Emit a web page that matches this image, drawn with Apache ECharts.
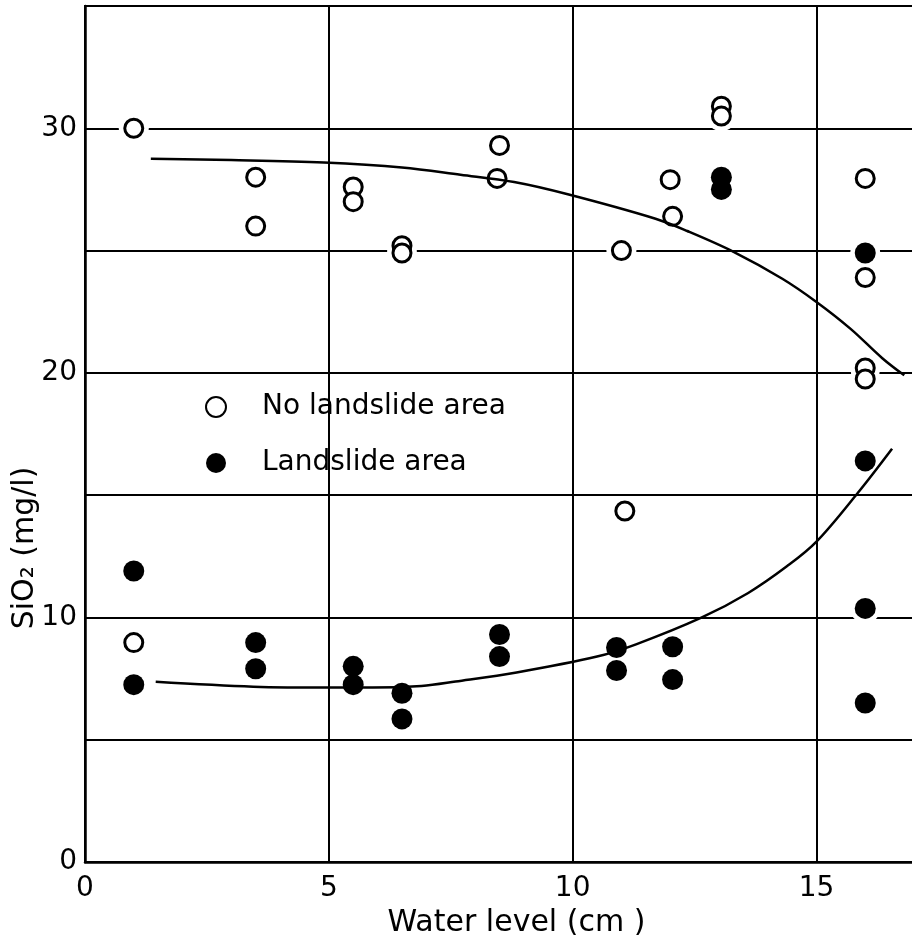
<!DOCTYPE html>
<html>
<head>
<meta charset="utf-8">
<title>SiO2 vs water level</title>
<script src="https://cdn.jsdelivr.net/npm/echarts@6/dist/echarts.min.js"></script>
<style>
  html, body { margin: 0; padding: 0; background: #fff; }
  #chart { width: 912px; height: 937px; }
</style>
</head>
<body>
<div id="chart"></div>
<script>
// points: [water level (cm), SiO2 (mg/l)]
var noLandslide = [
    [1, 30.0], [1, 8.97],
    [3.5, 28.0], [3.5, 26.0],
    [5.5, 27.6], [5.5, 27.0],
    [6.5, 25.2], [6.5, 24.9],
    [8.5, 29.3], [8.45, 27.95],
    [11.0, 25.0], [11.07, 14.35],
    [12.0, 27.9], [12.05, 26.4],
    [13.05, 30.9], [13.05, 30.5],
    [16.0, 27.95], [16.0, 23.9], [16.0, 20.2], [16.0, 19.75]
];
var landslide = [
    [1, 11.9], [1, 7.25],
    [3.5, 8.97], [3.5, 7.9],
    [5.5, 8.0], [5.5, 7.25],
    [6.5, 6.9], [6.5, 5.85],
    [8.5, 9.3], [8.5, 8.4],
    [10.9, 8.77], [10.9, 7.83],
    [12.05, 8.8], [12.05, 7.46],
    [13.05, 28.0], [13.05, 27.5],
    [16.0, 24.9], [16.0, 16.4], [16.0, 10.37], [16.0, 6.5]
];
// hand drawn trend curves
var upperCurve = [
    [1.35, 28.75], [3, 28.7], [4.9, 28.6], [6.5, 28.4], [7.7, 28.1],
    [8.8, 27.8], [9.9, 27.3], [11.7, 26.3], [12.35, 25.8], [13.3, 24.95],
    [14.3, 23.85], [15, 22.9], [15.7, 21.8], [16.35, 20.6], [16.8, 19.9]
];
var lowerCurve = [
    [1.45, 7.37], [3.45, 7.17], [5.05, 7.13], [5.9, 7.13], [6.9, 7.2],
    [7.6, 7.38], [8.85, 7.75], [10.5, 8.4], [11.3, 8.9], [12.65, 10.0],
    [13.6, 11.0], [14.4, 12.1], [15, 13.1], [15.85, 15.1], [16.55, 16.9]
];
var xLabels = [0, 5, 10, 15];
var yLabels = [0, 10, 20, 30];

var chart = echarts.init(document.getElementById('chart'));
var font = 'DejaVu Sans';

var option = {
    animation: false,
    backgroundColor: '#fff',
    grid: {
        left: 85,
        right: -2,
        top: 6,
        bottom: 75,
        outerBoundsMode: 'none',
        show: true,
        borderColor: '#000',
        borderWidth: 2
    },
    legend: {
        data: ['No landslide area', 'Landslide area'],
        orient: 'vertical',
        left: 200,
        top: 388,
        itemWidth: 20,
        itemHeight: 20,
        itemGap: 28,
        textStyle: {
            fontFamily: font,
            fontSize: 28,
            color: '#000',
            padding: [0, 0, 0, 31]
        }
    },
    xAxis: {
        type: 'value',
        min: 0,
        max: 17,
        interval: 5,
        name: 'Water level (cm )',
        nameLocation: 'middle',
        nameGap: 44,
        nameTextStyle: {
            fontFamily: font,
            fontSize: 30,
            color: '#000',
            padding: [0, 0, 0, 34]
        },
        axisLine: { lineStyle: { color: '#000', width: 2.5 } },
        axisTick: { show: false },
        axisLabel: {
            margin: 13,
            fontFamily: font,
            fontSize: 28,
            color: '#000',
            showMaxLabel: false,
            formatter: function(v) {
                return xLabels.indexOf(v) >= 0 ? String(v) : '';
            }
        },
        splitLine: { show: true, lineStyle: { color: '#000', width: 2 } }
    },
    yAxis: {
        type: 'value',
        min: 0,
        max: 35,
        interval: 5,
        axisLine: { show: true, lineStyle: { color: '#000', width: 2.5 } },
        axisTick: { show: false },
        axisLabel: {
            margin: 8,
            fontFamily: font,
            fontSize: 28,
            color: '#000',
            formatter: function(v) {
                return yLabels.indexOf(v) >= 0 ? String(v) : '';
            }
        },
        splitLine: { show: true, lineStyle: { color: '#000', width: 2 } }
    },
    graphic: [{
        type: 'text',
        x: 25,
        y: 548,
        rotation: Math.PI / 2,
        style: {
            text: 'SiO\u2082 (mg/l)',
            fontFamily: font,
            fontSize: 30,
            fill: '#000',
            align: 'center',
            verticalAlign: 'middle'
        }
    }],
    series: [
        {
            name: 'upper',
            type: 'line',
            data: upperCurve,
            smooth: 0.35,
            showSymbol: false,
            silent: true,
            lineStyle: { color: '#000', width: 2.5 }
        },
        {
            name: 'lower',
            type: 'line',
            data: lowerCurve,
            smooth: 0.35,
            showSymbol: false,
            silent: true,
            lineStyle: { color: '#000', width: 2.5 }
        },
        {
            // white gap around every marker, as in the printed figure
            name: 'halo',
            type: 'scatter',
            data: noLandslide.concat(landslide),
            symbolSize: 30,
            silent: true,
            itemStyle: { color: '#fff', opacity: 1 }
        },
        {
            name: 'No landslide area',
            type: 'scatter',
            data: noLandslide,
            symbol: 'circle',
            symbolSize: 18,
            itemStyle: { color: '#fff', borderColor: '#000', borderWidth: 3, opacity: 1 }
        },
        {
            name: 'Landslide area',
            type: 'scatter',
            data: landslide,
            symbol: 'circle',
            symbolSize: 21,
            itemStyle: { color: '#000', opacity: 1 }
        }
    ]
};

chart.setOption(option);
</script>
</body>
</html>
